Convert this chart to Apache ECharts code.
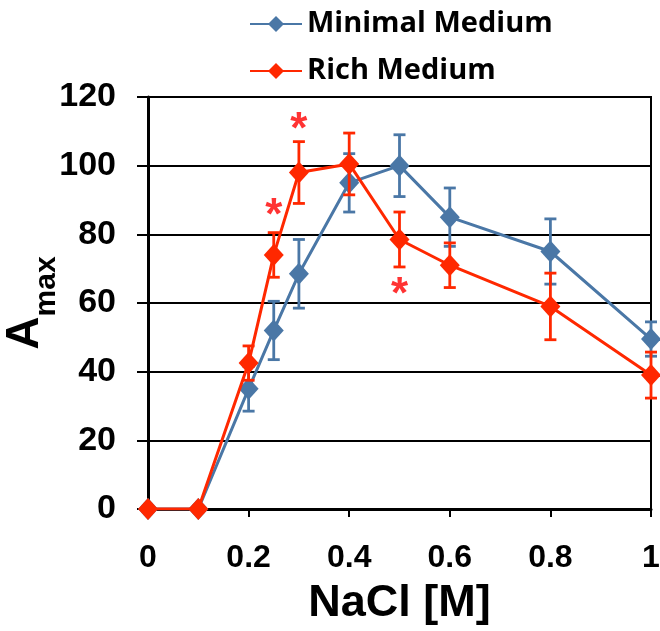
<!DOCTYPE html>
<html>
<head>
<meta charset="utf-8">
<script src="https://cdn.jsdelivr.net/npm/echarts@6/dist/echarts.min.js"></script>
<style>
  html, body { margin: 0; padding: 0; background: #fff; }
  #chart { width: 660px; height: 631px; }
</style>
</head>
<body>
<div id="chart"></div>
<script>
// NaCl concentration [M]
const naCl = [0, 0.1, 0.2, 0.25, 0.3, 0.4, 0.5, 0.6, 0.8, 1.0];

const minimalMean = [0, 0, 35, 52, 68.5, 95, 100, 85, 75, 49.5];
const minimalErr  = [0, 0, 6.5, 8.5, 10, 8.5, 9, 8.5, 9.5, 5];

const richMean = [0, 0, 42.5, 74, 98, 100.5, 78.5, 71, 59, 39];
const richErr  = [0, 0, 5, 6.5, 9, 9, 8, 6.5, 9.7, 6.7];

// significance markers
const starX = [0.25, 0.3, 0.5];
const starY = [88, 113, 65];

const xTicks = [0, 0.2, 0.4, 0.6, 0.8, 1];
const yTicks = [0, 20, 40, 60, 80, 100, 120];

const BLUE = '#4a77a6';
const RED = '#ff2800';

const chart = echarts.init(document.getElementById('chart'));

function pairs(xs, ys) {
  return xs.map((x, i) => [x, ys[i]]);
}

function errData(xs, mean, err) {
  return xs.map((x, i) => [x, mean[i] - err[i], mean[i] + err[i], err[i]])
    .filter(d => d[3] > 0);
}

function errSeries(name, data, color, z) {
  return {
    name: name,
    type: 'custom',
    z: z,
    silent: true,
    data: data,
    encode: { x: 0, y: [1, 2] },
    renderItem: function (params, api) {
      const x = api.value(0);
      const lo = api.coord([x, api.value(1)]);
      const hi = api.coord([x, api.value(2)]);
      const cap = 6;
      const style = { stroke: color, lineWidth: 2.8 };
      return {
        type: 'group',
        children: [
          { type: 'line', shape: { x1: lo[0], y1: lo[1], x2: hi[0], y2: hi[1] }, style: style },
          { type: 'line', shape: { x1: hi[0] - cap, y1: hi[1], x2: hi[0] + cap, y2: hi[1] }, style: style },
          { type: 'line', shape: { x1: lo[0] - cap, y1: lo[1], x2: lo[0] + cap, y2: lo[1] }, style: style }
        ]
      };
    }
  };
}

const option = {
  animation: false,
  backgroundColor: '#fff',
  legend: {
    data: ['Minimal Medium', 'Rich Medium'],
    orient: 'vertical',
    left: 244,
    top: 4,
    itemWidth: 52,
    itemHeight: 20,
    itemGap: 17,
    textStyle: {
      fontFamily: 'Open Sans',
      fontWeight: 'bold',
      fontSize: 29,
      lineHeight: 30,
      color: '#000'
    }
  },
  grid: {
    left: 148,
    right: 9,
    top: 97,
    bottom: 122,
    outerBoundsMode: 'none',
    containLabel: false,
    show: true,
    borderColor: '#000',
    borderWidth: 2
  },
  xAxis: {
    type: 'value',
    min: 0,
    max: 1,
    interval: 0.2,
    name: 'NaCl [M]',
    nameLocation: 'middle',
    nameGap: 72,
    nameMoveOverlap: false,
    nameTextStyle: {
      fontFamily: 'Liberation Sans',
      fontWeight: 'bold',
      fontSize: 45,
      color: '#000'
    },
    axisLine: { lineStyle: { color: '#000', width: 3 } },
    axisTick: { show: true, length: 8, inside: false, lineStyle: { color: '#000', width: 2 } },
    splitLine: { show: false },
    axisLabel: {
      margin: 33,
      color: '#000',
      fontFamily: 'Liberation Sans',
      fontWeight: 'bold',
      fontSize: 32,
      hideOverlap: false,
      formatter: v => String(xTicks.find(t => Math.abs(t - v) < 1e-6) ?? v)
    }
  },
  yAxis: {
    type: 'value',
    min: 0,
    max: 120,
    interval: 20,
    name: '{a|A}{s|max}',
    nameLocation: 'middle',
    nameRotate: 90,
    nameGap: 86,
    nameMoveOverlap: false,
    nameTextStyle: {
      rich: {
        a: { fontFamily: 'Liberation Sans', fontWeight: 'bold', fontSize: 46, color: '#000', verticalAlign: 'bottom', padding: [0, 0, 14, 0] },
        s: { fontFamily: 'Liberation Sans', fontWeight: 'bold', fontSize: 30, color: '#000', verticalAlign: 'bottom' }
      }
    },
    axisLine: { show: true, lineStyle: { color: '#000', width: 3 } },
    axisTick: { show: true, length: 11, inside: false, lineStyle: { color: '#000', width: 2 } },
    splitLine: { show: true, lineStyle: { color: '#000', width: 2 } },
    axisLabel: {
      margin: 32,
      color: '#000',
      fontFamily: 'Liberation Sans',
      fontWeight: 'bold',
      fontSize: 34,
      formatter: v => String(yTicks.find(t => t === v) ?? v)
    }
  },
  series: [
    errSeries('minErr', errData(naCl, minimalMean, minimalErr), BLUE, 2),
    {
      name: 'Minimal Medium',
      type: 'line',
      z: 3,
      data: pairs(naCl, minimalMean),
      symbol: 'diamond',
      symbolSize: [20, 22],
      lineStyle: { color: BLUE, width: 3 },
      itemStyle: { color: BLUE }
    },
    errSeries('richErr', errData(naCl, richMean, richErr), RED, 4),
    {
      name: 'Rich Medium',
      type: 'line',
      z: 5,
      data: pairs(naCl, richMean),
      symbol: 'diamond',
      symbolSize: [20, 22],
      lineStyle: { color: RED, width: 3 },
      itemStyle: { color: RED }
    },
    {
      name: 'stars',
      type: 'scatter',
      z: 6,
      silent: true,
      data: pairs(starX, starY),
      symbol: 'circle',
      symbolSize: 1,
      itemStyle: { color: 'rgba(0,0,0,0)' },
      label: {
        show: true,
        position: 'inside',
        formatter: '*',
        offset: [0, 10],
        color: '#ff0000',
        fontFamily: 'Liberation Sans',
        fontWeight: 'bold',
        fontSize: 44
      }
    }
  ]
};

chart.setOption(option);
</script>
</body>
</html>
